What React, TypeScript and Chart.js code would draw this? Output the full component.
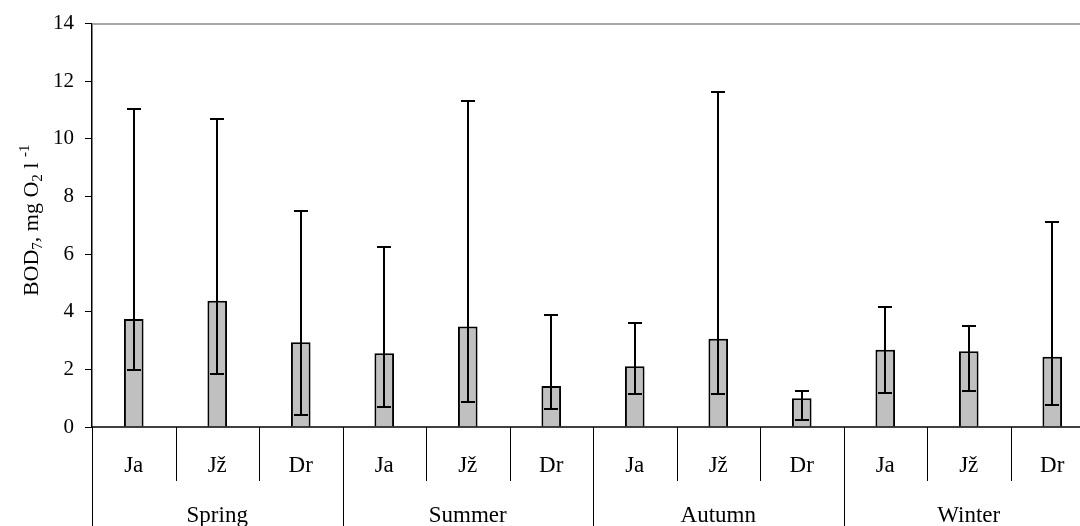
import React, { useEffect, useRef } from "react";
import { Chart, registerables } from "chart.js";

Chart.register(...registerables);

const seasons = ["Spring", "Summer", "Autumn", "Winter"];
const categoryLabels = ["Ja", "Jž", "Dr", "Ja", "Jž", "Dr", "Ja", "Jž", "Dr", "Ja", "Jž", "Dr"];
const meanValues = [3.75, 4.38, 2.94, 2.56, 3.49, 1.42, 2.11, 3.06, 1.0, 2.68, 2.63, 2.44];
const upperValues = [11.05, 10.68, 7.48, 6.24, 11.31, 3.87, 3.61, 11.63, 1.25, 4.18, 3.49, 7.11];
const lowerValues = [1.99, 1.85, 0.42, 0.68, 0.86, 0.62, 1.13, 1.13, 0.24, 1.18, 1.24, 0.75];
const yMin = 0;
const yMax = 14;
const yStep = 2;

const FONT = "'Liberation Serif', 'Times New Roman', serif";

const errorBarPlugin = {
  id: "errorBars",
  afterDatasetsDraw(chart: any) {
    const ctx = chart.ctx;
    const x = chart.scales.x;
    const y = chart.scales.y;
    const cap = 14;
    ctx.save();
    ctx.strokeStyle = "#000";
    ctx.lineWidth = 2;
    meanValues.forEach((_, i) => {
      const cx = Math.round(x.getPixelForValue(i));
      const yh = Math.round(y.getPixelForValue(upperValues[i]));
      const yl = Math.round(y.getPixelForValue(lowerValues[i]));
      ctx.beginPath();
      ctx.moveTo(cx, yl);
      ctx.lineTo(cx, yh);
      ctx.moveTo(cx - cap / 2, yh);
      ctx.lineTo(cx + cap / 2, yh);
      ctx.moveTo(cx - cap / 2, yl);
      ctx.lineTo(cx + cap / 2, yl);
      ctx.stroke();
    });
    ctx.restore();
  },
};

const decorPlugin = {
  id: "decor",
  afterDraw(chart: any) {
    const ctx = chart.ctx;
    const { left, right, top, bottom } = chart.chartArea;
    const x = chart.scales.x;
    const H = chart.height;
    const n = categoryLabels.length;
    const band = (right - left) / n;
    ctx.save();
    // top border
    ctx.strokeStyle = "#8a8a8a";
    ctx.lineWidth = 1.5;
    ctx.beginPath();
    ctx.moveTo(left, top + 0.5);
    ctx.lineTo(right, top + 0.5);
    ctx.stroke();
    // zero line
    ctx.strokeStyle = "#000";
    ctx.lineWidth = 1.5;
    ctx.beginPath();
    ctx.moveTo(left, Math.round(bottom));
    ctx.lineTo(right, Math.round(bottom));
    ctx.stroke();
    // separators
    ctx.lineWidth = 1;
    for (let i = 0; i <= n; i++) {
      const sx = Math.round(left + i * band) + 0.5;
      const end = i % 3 === 0 ? H : bottom + 54;
      ctx.beginPath();
      ctx.moveTo(sx, bottom);
      ctx.lineTo(sx, end);
      ctx.stroke();
    }
    // category labels
    ctx.fillStyle = "#000";
    ctx.textAlign = "center";
    ctx.textBaseline = "middle";
    ctx.font = `23px ${FONT}`;
    categoryLabels.forEach((lab, i) => {
      ctx.fillText(lab, x.getPixelForValue(i), bottom + 39);
    });
    seasons.forEach((s, k) => {
      ctx.fillText(s, x.getPixelForValue(k * 3 + 1), bottom + 89);
    });
    // y title with sub/superscripts
    const parts: [string, string][] = [
      ["BOD", "n"],
      ["7", "sub"],
      [", mg O", "n"],
      ["2", "sub"],
      [" l ", "n"],
      ["-1", "sup"],
    ];
    const mainF = `22px ${FONT}`;
    const smallF = `15px ${FONT}`;
    let total = 0;
    parts.forEach(([t, k]) => {
      ctx.font = k === "n" ? mainF : smallF;
      total += ctx.measureText(t).width;
    });
    ctx.translate(38, (top + bottom) / 2 - 5);
    ctx.rotate(-Math.PI / 2);
    ctx.textAlign = "left";
    ctx.textBaseline = "alphabetic";
    let pos = -total / 2;
    parts.forEach(([t, k]) => {
      ctx.font = k === "n" ? mainF : smallF;
      const dy = k === "sub" ? 4 : k === "sup" ? -9 : 0;
      ctx.fillText(t, pos, dy);
      pos += ctx.measureText(t).width;
    });
    ctx.restore();
  },
};

function BarChart() {
  const ref = useRef<HTMLCanvasElement | null>(null);
  useEffect(() => {
    if (!ref.current) return;
    const yTicks: number[] = [];
    for (let v = yMin; v <= yMax; v += yStep) yTicks.push(v);
    const chart = new Chart(ref.current, {
      type: "bar",
      data: {
        labels: categoryLabels,
        datasets: [
          {
            data: meanValues,
            backgroundColor: "#c0c0c0",
            borderColor: "#000",
            borderWidth: 2,
            barPercentage: 0.235,
            categoryPercentage: 1,
          },
        ],
      },
      options: {
        responsive: false,
        animation: false,
        devicePixelRatio: 1,
        layout: { padding: { left: 0, right: 0, top: 21, bottom: 99 } },
        plugins: {
          legend: { display: false },
          tooltip: { enabled: false },
        },
        scales: {
          x: {
            type: "category",
            display: false,
            offset: true,
          },
          y: {
            min: yMin,
            max: yMax,
            afterFit: (scale: any) => {
              scale.width = 92;
            },
            afterBuildTicks: (scale: any) => {
              scale.ticks = yTicks.map((v) => ({ value: v }));
            },
            ticks: {
              color: "#000",
              font: { family: FONT, size: 21 },
              padding: 11,
              callback: (v: any) => String(v),
            },
            grid: {
              display: true,
              drawOnChartArea: false,
              drawTicks: true,
              tickLength: 7,
              color: "#000",
              lineWidth: 1,
            },
            border: { display: true, color: "#000", width: 1.5 },
          },
        },
      },
      plugins: [errorBarPlugin, decorPlugin],
    });
    return () => chart.destroy();
  }, []);
  return <canvas ref={ref} width={1094} height={526} style={{ display: "block" }} />;
}

export default function App() {
  return (
    <div
      style={{
        position: "fixed",
        left: 0,
        top: 0,
        width: 1080,
        height: 526,
        overflow: "hidden",
        background: "#fff",
      }}
    >
      <BarChart />
    </div>
  );
}
